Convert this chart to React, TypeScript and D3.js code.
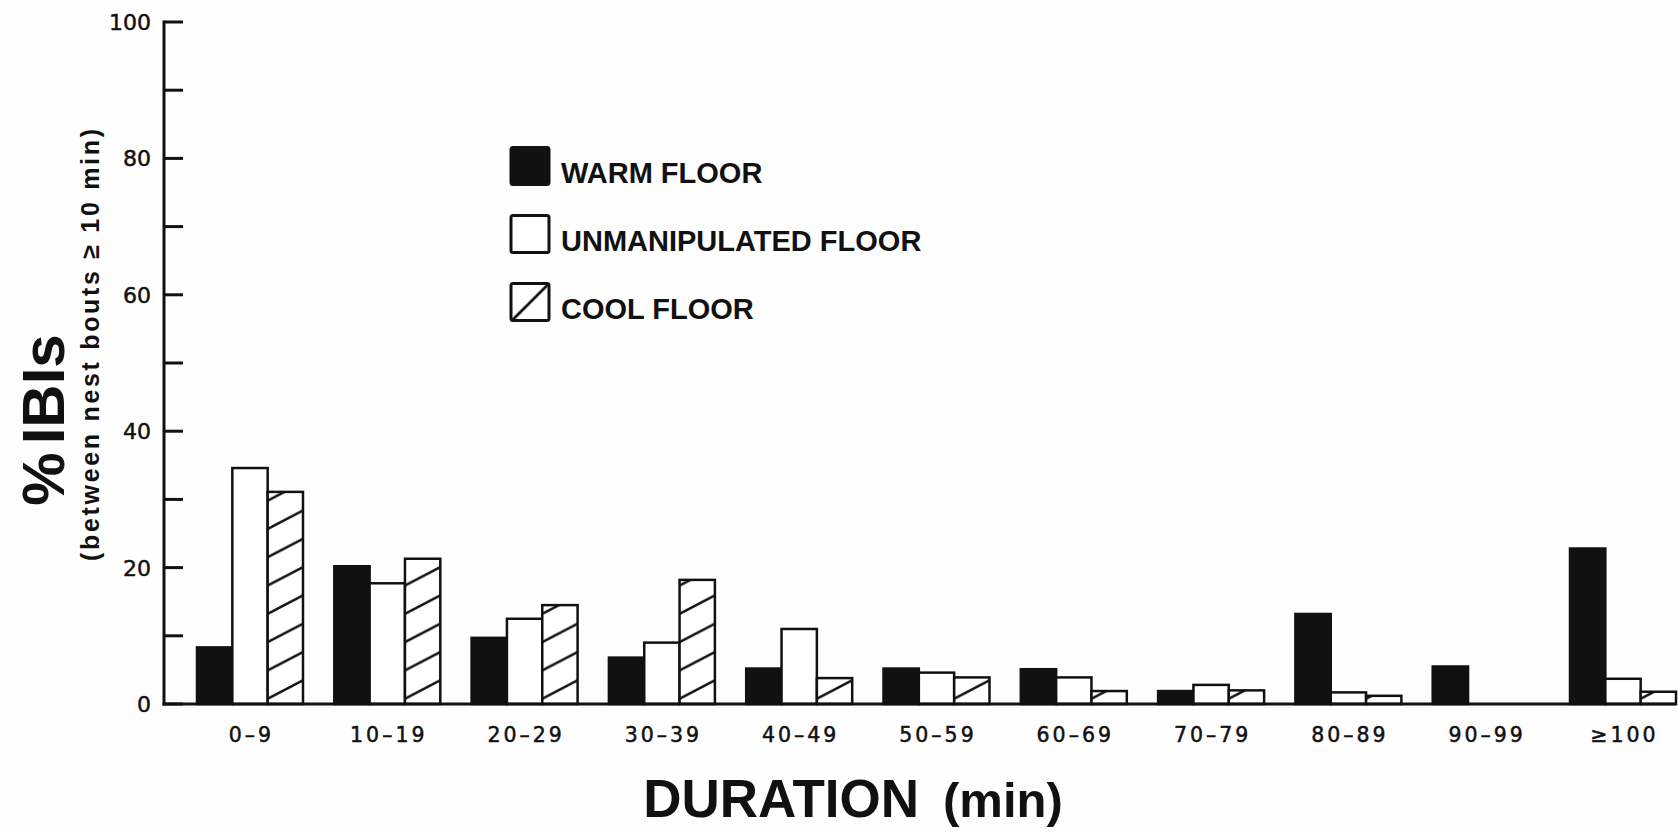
import React from "react";
import * as d3 from "d3";

// Duration classes of inter-bout intervals (min)
const categories = ["0–9", "10–19", "20–29", "30–39", "40–49", "50–59", "60–69", "70–79", "80–89", "90–99", "≥100"];

// Percentage of IBIs in each duration class
const warmFloor = [8.3, 20.2, 9.7, 6.8, 5.2, 5.2, 5.1, 1.9, 13.2, 5.5, 22.8];
const unmanipulatedFloor = [34.6, 17.7, 12.5, 9.0, 11.0, 4.6, 3.9, 2.8, 1.7, 0, 3.7];
const coolFloor = [31.1, 21.3, 14.5, 18.2, 3.8, 3.9, 1.9, 2.0, 1.2, 0, 1.8];

const seriesKeys = ["warm", "unmanipulated", "cool"];
const seriesLabels = ["WARM FLOOR", "UNMANIPULATED FLOOR", "COOL FLOOR"];
const yTicks = [0, 10, 20, 30, 40, 50, 60, 70, 80, 90, 100];
const yTickLabels = [0, 20, 40, 60, 80, 100];

const W = 1678;
const H = 832;
const INK = "#111";
const FONT = "'Liberation Sans', Arial, Helvetica, sans-serif";
const TICK_FONT = "'DejaVu Sans', Verdana, sans-serif";

export default function App() {
  const axisX = 164;
  const axisEnd = 1676;

  const y = d3.scaleLinear().domain([0, 100]).range([704, 22]);
  const x = d3
    .scaleBand<string>()
    .domain(categories)
    .range([197, 1676])
    .paddingInner(0.228)
    .paddingOuter(0);
  const inner = d3.scaleBand<string>().domain(seriesKeys).range([0, x.bandwidth()]);

  const values: Record<string, number[]> = {
    warm: warmFloor,
    unmanipulated: unmanipulatedFloor,
    cool: coolFloor,
  };

  const fillFor = (k: string) =>
    k === "warm" ? INK : k === "unmanipulated" ? "#fff" : "url(#hatch)";

  const hatchW = 54;
  const hatchH = 28.3;
  const hatchPath = (w: number, h: number) =>
    [0, h, -h]
      .map((o) => `M${-w},${2 * h + o}L${2 * w},${-h + o}`)
      .join("");

  const legendX = 511;
  const legendBase = 182.5;
  const legendStep = 68;
  const sw = 38;

  return (
    <svg
      width={W}
      height={H}
      viewBox={`0 0 ${W} ${H}`}
      style={{ position: "absolute", left: 0, top: 0, background: "#fefefe" }}
      fontFamily={FONT}
    >
      <defs>
        <pattern id="hatch" patternUnits="userSpaceOnUse" width={hatchW} height={hatchH}>
          <rect width={hatchW} height={hatchH} fill="#fff" />
          <path d={hatchPath(hatchW, hatchH)} stroke={INK} strokeWidth={2.4} fill="none" />
        </pattern>
        <pattern
          id="hatchLegend"
          patternUnits="userSpaceOnUse"
          x={legendX}
          y={legendBase + 2 * legendStep - 35}
          width={sw}
          height={sw}
        >
          <rect width={sw} height={sw} fill="#fff" />
          <path d={hatchPath(sw, sw)} stroke={INK} strokeWidth={2.8} fill="none" />
        </pattern>
      </defs>

      {/* bars */}
      {categories.map((c, i) => (
        <g key={c} transform={`translate(${x(c)},0)`}>
          {seriesKeys.map((k) => {
            const v = values[k][i];
            if (!v) return null;
            return (
              <rect
                key={k}
                x={inner(k)}
                y={y(v)}
                width={inner.bandwidth()}
                height={y(0) - y(v)}
                fill={fillFor(k)}
                stroke={INK}
                strokeWidth={2.5}
              />
            );
          })}
        </g>
      ))}

      {/* axes */}
      <line x1={axisX} x2={axisX} y1={y(100) - 1.5} y2={y(0) + 1.5} stroke={INK} strokeWidth={3} />
      <line x1={axisX - 1.5} x2={axisEnd} y1={y(0)} y2={y(0)} stroke={INK} strokeWidth={3} />
      {yTicks.map((t) => (
        <line key={t} x1={axisX} x2={axisX + 19} y1={y(t)} y2={y(t)} stroke={INK} strokeWidth={3} />
      ))}
      {yTickLabels.map((t) => (
        <text
          key={t}
          x={151}
          y={y(t)}
          dy="0.36em"
          textAnchor="end"
          fontFamily={TICK_FONT}
          fontSize={22}
          fill={INK}
          stroke={INK}
          strokeWidth={0.5}
        >
          {t}
        </text>
      ))}

      {/* x tick labels */}
      {categories.map((c) => (
        <text
          key={c}
          x={(x(c) as number) + x.bandwidth() / 2 + 1.5}
          y={742}
          textAnchor="middle"
          fontFamily={TICK_FONT}
          fontSize={20.5}
          letterSpacing={3}
          fill={INK}
          stroke={INK}
          strokeWidth={0.5}
        >
          {c}
        </text>
      ))}

      {/* axis titles */}
      <text x={853} y={817} textAnchor="middle" fontSize={53} fontWeight="bold" fill={INK}>
        <tspan>DURATION</tspan>
        <tspan dx={24} fontSize={49}>(min)</tspan>
      </text>
      <text
        transform={`translate(64,420) rotate(-90)`}
        textAnchor="middle"
        fontSize={60}
        fontWeight="bold"
        fill={INK}
      >
        <tspan>%</tspan>
        <tspan dx={8}>IBIs</tspan>
      </text>
      <text
        transform={`translate(99,345) rotate(-90)`}
        textAnchor="middle"
        fontSize={25}
        fontWeight="bold"
        fill={INK}
        textLength={432}
        lengthAdjust="spacing"
      >
        (between nest bouts ≥ 10 min)
      </text>

      {/* legend */}
      {seriesKeys.map((k, i) => {
        const base = legendBase + i * legendStep;
        return (
          <g key={k}>
            <rect
              x={legendX}
              y={base - 35}
              width={sw}
              height={sw - 1}
              rx={2}
              fill={k === "cool" ? "url(#hatchLegend)" : fillFor(k)}
              stroke={INK}
              strokeWidth={3}
            />
            <text x={561} y={base} fontSize={29} fontWeight="bold" fill={INK}>
              {seriesLabels[i]}
            </text>
          </g>
        );
      })}
    </svg>
  );
}
